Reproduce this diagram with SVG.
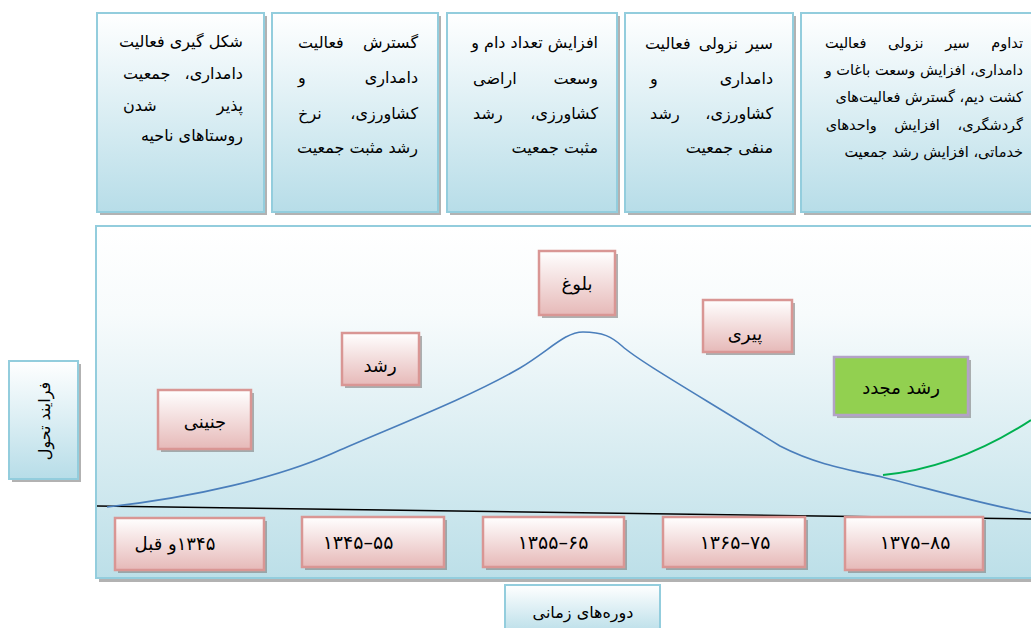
<svg xmlns="http://www.w3.org/2000/svg" width="1031" height="628" viewBox="0 0 1031 628">
<defs>
<linearGradient id="gBlue" x1="0" y1="0" x2="0" y2="1">
<stop offset="0" stop-color="#ffffff"/>
<stop offset="1" stop-color="#b7dde8"/>
</linearGradient>
<linearGradient id="gPanel" x1="0" y1="0" x2="0" y2="1">
<stop offset="0" stop-color="#ffffff"/>
<stop offset="0.25" stop-color="#f7fbfc"/>
<stop offset="1" stop-color="#bcdfe8"/>
</linearGradient>
<linearGradient id="gPink" x1="0" y1="0" x2="0" y2="1">
<stop offset="0" stop-color="#ffffff"/>
<stop offset="1" stop-color="#e6b9b8"/>
</linearGradient>
<style>
.shadow{fill:#7f7f7f;opacity:0.6}
.blue{fill:url(#gBlue);stroke:#93cddd;stroke-width:2}
.panel{fill:url(#gPanel);stroke:#93cddd;stroke-width:2}
.pink{fill:url(#gPink);stroke:#d99694;stroke-width:2.5}
.green{fill:#92d050;stroke:#b3a2c7;stroke-width:2.5}
text{font-family:"DejaVu Sans",sans-serif;fill:#000}
.t{font-size:16px;text-anchor:end}
.t5{font-size:14.5px;text-anchor:end}
.s{text-anchor:start}
.lbl{font-size:18px;text-anchor:middle}
.side{font-size:16px;text-anchor:middle}
.num{font-size:19px;text-anchor:middle}
</style>
</defs>

<g id="panel">
<rect class="shadow" x="99" y="229" width="940" height="353"/>
<rect class="panel" x="96" y="226" width="940" height="352"/>
</g>

<g id="box1">
<rect class="shadow" x="100" y="16" width="167" height="199"/>
<rect class="blue" x="97" y="13" width="167" height="199"/>
<text class="t" x="243" y="47">شکل گیری فعالیت</text>
<text class="t" y="79"><tspan x="243">دامداری،&#x200F;</tspan><tspan class="s" x="118"> جمعیت</tspan></text>
<text class="t" y="111"><tspan x="243">پذیر</tspan><tspan class="s" x="118"> شدن</tspan></text>
<text class="t" x="243" y="141">روستاهای ناحیه</text>
</g>
<g id="box2">
<rect class="shadow" x="275" y="16" width="166" height="199"/>
<rect class="blue" x="272" y="13" width="166" height="199"/>
<text class="t" y="48"><tspan x="418">گسترش</tspan><tspan class="s" x="293"> فعالیت</tspan></text>
<text class="t" y="83"><tspan x="418">دامداری</tspan><tspan class="s" x="293"> و</tspan></text>
<text class="t" y="119"><tspan x="418">کشاورزی،&#x200F;</tspan><tspan class="s" x="293"> نرخ</tspan></text>
<text class="t" x="418" y="153">رشد مثبت جمعیت</text>
</g>
<g id="box3">
<rect class="shadow" x="450" y="16" width="170" height="199"/>
<rect class="blue" x="447" y="13" width="170" height="199"/>
<text class="t" x="598" y="48">افزایش تعداد دام و</text>
<text class="t" y="84"><tspan x="598">وسعت</tspan><tspan class="s" x="468"> اراضی</tspan></text>
<text class="t" y="119"><tspan x="598">کشاورزی،&#x200F;</tspan><tspan class="s" x="468"> رشد</tspan></text>
<text class="t" x="598" y="153">مثبت جمعیت</text>
</g>
<g id="box4">
<rect class="shadow" x="628" y="16" width="168" height="199"/>
<rect class="blue" x="625" y="13" width="168" height="199"/>
<text class="t" x="773" y="49" word-spacing="3">سیر نزولی فعالیت</text>
<text class="t" y="84"><tspan x="773">دامداری</tspan><tspan class="s" x="645"> و</tspan></text>
<text class="t" y="119"><tspan x="773">کشاورزی،&#x200F;</tspan><tspan class="s" x="645"> رشد</tspan></text>
<text class="t" x="773" y="153">منفی جمعیت</text>
</g>
<g id="box5">
<rect class="shadow" x="804" y="16" width="240" height="199"/>
<rect class="blue" x="801" y="13" width="240" height="199"/>
<text class="t5" x="1023" y="48" word-spacing="17">تداوم سیر نزولی فعالیت</text>
<text class="t5" x="1023" y="75">دامداری، افزایش وسعت باغات و</text>
<text class="t5" x="1023" y="102">کشت دیم، گسترش فعالیت‌های</text>
<text class="t5" x="1023" y="130" word-spacing="13">گردشگری، افزایش واحدهای</text>
<text class="t5" x="1023" y="157">خدماتی، افزایش رشد جمعیت</text>
</g>

<g id="process">
<rect class="shadow" x="12" y="364" width="69" height="118"/>
<rect class="blue" x="9" y="361" width="69" height="118"/>
<text class="side" transform="translate(50,421) rotate(-90)">فرایند تحول</text>
</g>

<g id="connectors" fill="none">
<path d="M97,506 L1031,519" stroke="#000" stroke-width="1.5"/>
<path d="M107,507 C190,498 280,478 340,450 C400,424 470,397 520,368 C550,350 565,332 583,332 C603,332 612,337 622,346 C640,362 700,396 780,446 C815,464 845,469 882,477 C930,489 985,505 1031,513" stroke="#4a7ebb" stroke-width="1.6"/>
<path d="M883,475 C935,470 985,450 1031,420" stroke="#00b050" stroke-width="2"/>
</g>

<g id="stage1">
<rect class="shadow" x="161" y="393" width="93" height="59"/>
<rect class="pink" x="158" y="390" width="93" height="59"/>
<text class="lbl" x="205" y="428">جنینی</text>
</g>
<g id="stage2">
<rect class="shadow" x="345" y="336" width="77" height="52"/>
<rect class="pink" x="342" y="333" width="77" height="52"/>
<text class="lbl" x="380" y="372">رشد</text>
</g>
<g id="stage3">
<rect class="shadow" x="542" y="254" width="76" height="64"/>
<rect class="pink" x="539" y="251" width="76" height="64"/>
<text class="lbl" x="577" y="290">بلوغ</text>
</g>
<g id="stage4">
<rect class="shadow" x="706" y="303" width="89" height="52"/>
<rect class="pink" x="703" y="300" width="89" height="52"/>
<text class="lbl" x="745" y="340">پیری</text>
</g>
<g id="stage5">
<rect class="shadow" x="837" y="360" width="134" height="58"/>
<rect class="green" x="834" y="357" width="134" height="58"/>
<text class="lbl" x="901" y="394">رشد مجدد</text>
</g>

<g id="period1">
<rect class="shadow" x="118" y="521" width="149" height="52"/>
<rect class="pink" x="115" y="518" width="149" height="52"/>
<text class="lbl" x="175" y="550" direction="rtl">۱۳۴۵و قبل</text>
</g>
<g id="period2">
<rect class="shadow" x="305" y="520" width="142" height="50"/>
<rect class="pink" x="302" y="517" width="142" height="50"/>
<text class="num" x="358" y="549">۱۳۴۵–۵۵</text>
</g>
<g id="period3">
<rect class="shadow" x="486" y="520" width="141" height="50"/>
<rect class="pink" x="483" y="517" width="141" height="50"/>
<text class="num" x="553" y="549">۱۳۵۵–۶۵</text>
</g>
<g id="period4">
<rect class="shadow" x="666" y="520" width="142" height="50"/>
<rect class="pink" x="663" y="517" width="142" height="50"/>
<text class="num" x="735" y="549">۱۳۶۵–۷۵</text>
</g>
<g id="period5">
<rect class="shadow" x="848" y="520" width="138" height="53"/>
<rect class="pink" x="845" y="517" width="138" height="53"/>
<text class="num" x="915" y="549">۱۳۷۵–۸۵</text>
</g>

<g id="periods-label">
<rect class="blue" x="505" y="585" width="155" height="50"/>
<text class="side" x="583" y="618">دوره‌های زمانی</text>
</g>
</svg>
